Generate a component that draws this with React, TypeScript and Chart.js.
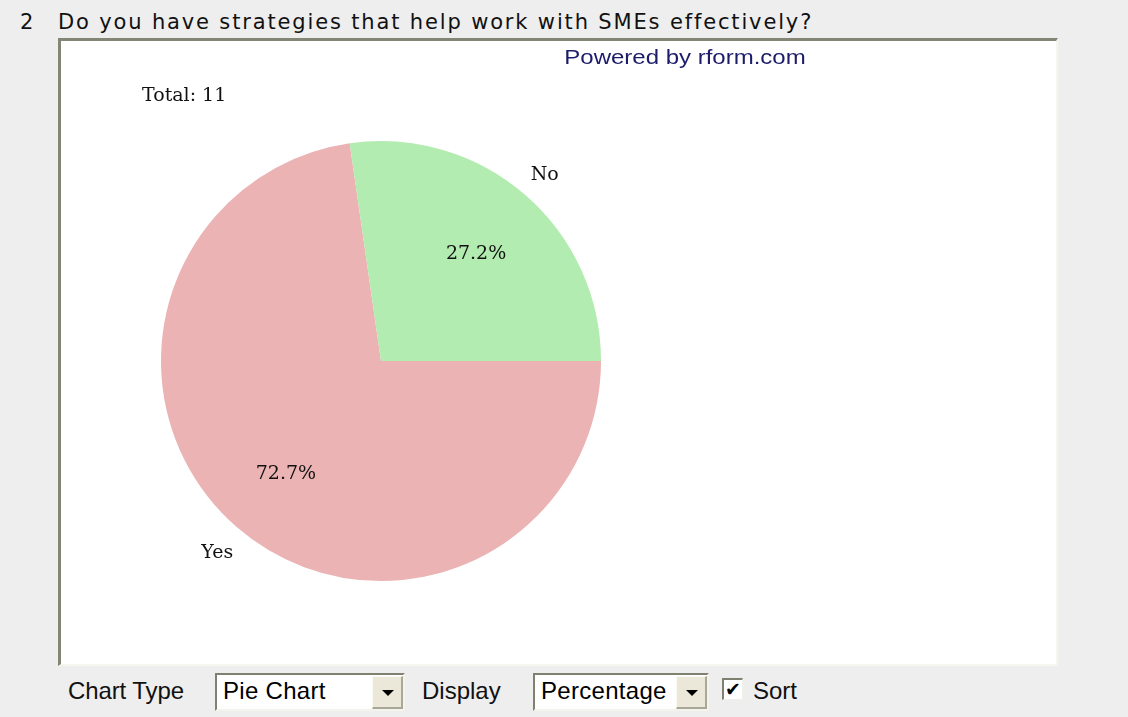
import React, { useEffect, useRef } from "react";
import { Chart, registerables } from "chart.js";

Chart.register(...registerables);

const categories = ["Yes", "No"];
const counts = [8, 3];
const percentLabels = ["72.7%", "27.2%"];
const sliceColors = ["#ebb3b3", "#b3ecb0"];
const totalText = "Total: 11";
const titleNumber = "2";
const titleText = "Do you have strategies that help work with SMEs effectively?";
const poweredText = "Powered by rform.com";

const labelPlugin = {
  id: "pieLabels",
  afterDraw(chart: any) {
    const ctx = chart.ctx;
    const meta = chart.getDatasetMeta(0);
    ctx.save();
    ctx.fillStyle = "#111";
    ctx.textAlign = "center";
    ctx.textBaseline = "middle";
    ctx.font = '19px "DejaVu Serif", serif';
    meta.data.forEach((arc: any, i: number) => {
      const p = arc.getProps(["x", "y", "startAngle", "endAngle", "outerRadius"], true);
      const mid = (p.startAngle + p.endAngle) / 2;
      const rIn = p.outerRadius * 0.66;
      ctx.fillText(percentLabels[i], p.x + Math.cos(mid) * rIn, p.y + Math.sin(mid) * rIn + 3);
      const rOut = p.outerRadius + 30;
      ctx.fillText(categories[i], p.x + Math.cos(mid) * rOut, p.y + Math.sin(mid) * rOut + 3);
    });
    ctx.textAlign = "left";
    ctx.textBaseline = "alphabetic";
    ctx.fillText(totalText, 81, 60);
    ctx.textAlign = "center";
    ctx.fillStyle = "#1c1c6a";
    ctx.font = '20px "Liberation Sans", Arial, sans-serif';
    ctx.translate(624, 23);
    ctx.scale(1.2, 1);
    ctx.fillText(poweredText, 0, 0);
    ctx.restore();
  },
};

function App() {
  const ref = useRef<HTMLCanvasElement | null>(null);
  useEffect(() => {
    document.body.style.margin = "0";
    if (!ref.current) return;
    const chart = new Chart(ref.current, {
      type: "pie",
      data: {
        labels: categories,
        datasets: [
          {
            data: counts,
            backgroundColor: sliceColors,
            borderWidth: 0,
          },
        ],
      },
      options: {
        animation: false,
        responsive: false,
        rotation: 90,
        layout: { padding: { left: 100, right: 455, top: 100, bottom: 83 } },
        plugins: { legend: { display: false }, tooltip: { enabled: false } },
      },
      plugins: [labelPlugin],
    });
    return () => chart.destroy();
  }, []);

  const sans = '"Liberation Sans", Arial, sans-serif';
  const selectBox = (left: number, width: number, text: string) => (
    <div
      style={{
        position: "absolute",
        left,
        top: 673,
        width,
        height: 38,
        boxSizing: "border-box",
        background: "#fff",
        borderTop: "2px solid #808070",
        borderLeft: "2px solid #808070",
        borderRight: "2px solid #f4f4ec",
        borderBottom: "2px solid #f4f4ec",
        font: `24px ${sans}`,
        letterSpacing: "0.3px",
        color: "#000",
        whiteSpace: "nowrap",
      }}
    >
      <span style={{ position: "absolute", left: 6, top: 2 }}>{text}</span>
      <div
        style={{
          position: "absolute",
          right: 0,
          top: 1,
          width: 31,
          height: 33,
          background: "#ebe8da",
          boxSizing: "border-box",
          borderTop: "1px solid #fafaf4",
          borderLeft: "1px solid #fafaf4",
          borderRight: "2px solid #a8a898",
          borderBottom: "2px solid #a8a898",
        }}
      >
        <div
          style={{
            position: "absolute",
            left: 9,
            top: 13,
            width: 0,
            height: 0,
            borderLeft: "6px solid transparent",
            borderRight: "6px solid transparent",
            borderTop: "6px solid #000",
          }}
        />
      </div>
    </div>
  );

  return (
    <div
      style={{
        position: "absolute",
        left: 0,
        top: 0,
        width: 1128,
        height: 717,
        background: "#eeeeee",
        overflow: "hidden",
      }}
    >
      <div
        style={{
          position: "absolute",
          left: 20,
          top: 10,
          font: '21px "DejaVu Sans", Tahoma, sans-serif',
          color: "#111",
          whiteSpace: "nowrap",
        }}
      >
        {titleNumber}
      </div>
      <div
        style={{
          position: "absolute",
          left: 58,
          top: 10,
          font: '21px "DejaVu Sans", Tahoma, sans-serif',
          letterSpacing: "1.85px",
          color: "#111",
          whiteSpace: "nowrap",
        }}
      >
        {titleText}
      </div>
      <div
        style={{
          position: "absolute",
          left: 58,
          top: 38,
          width: 1000,
          height: 628,
          boxSizing: "border-box",
          background: "#fff",
          borderTop: "3px solid #858575",
          borderLeft: "3px solid #858575",
          borderRight: "2px solid #f6f6ee",
          borderBottom: "2px solid #f6f6ee",
        }}
      >
        <canvas
          ref={ref}
          width={995}
          height={623}
          style={{ position: "absolute", left: 0, top: 0, width: 995, height: 623 }}
        />
      </div>
      <div
        style={{
          position: "absolute",
          left: 68,
          top: 677,
          font: `24px ${sans}`,
          letterSpacing: "-0.1px",
          color: "#111",
          whiteSpace: "nowrap",
        }}
      >
        Chart Type
      </div>
      {selectBox(215, 190, "Pie Chart")}
      <div
        style={{
          position: "absolute",
          left: 422,
          top: 677,
          font: `24px ${sans}`,
          color: "#111",
          whiteSpace: "nowrap",
        }}
      >
        Display
      </div>
      {selectBox(533, 176, "Percentage")}
      <div
        style={{
          position: "absolute",
          left: 722,
          top: 678,
          width: 21,
          height: 22,
          boxSizing: "border-box",
          background: "#fff",
          borderTop: "2px solid #808070",
          borderLeft: "2px solid #808070",
          borderRight: "1px solid #f0f0e8",
          borderBottom: "1px solid #f0f0e8",
          font: `bold 19px "DejaVu Sans", sans-serif`,
          lineHeight: "19px",
          textAlign: "center",
          color: "#000",
        }}
      >
        ✔
      </div>
      <div
        style={{
          position: "absolute",
          left: 753,
          top: 677,
          font: `24px ${sans}`,
          color: "#111",
          whiteSpace: "nowrap",
        }}
      >
        Sort
      </div>
    </div>
  );
}

export default App;
